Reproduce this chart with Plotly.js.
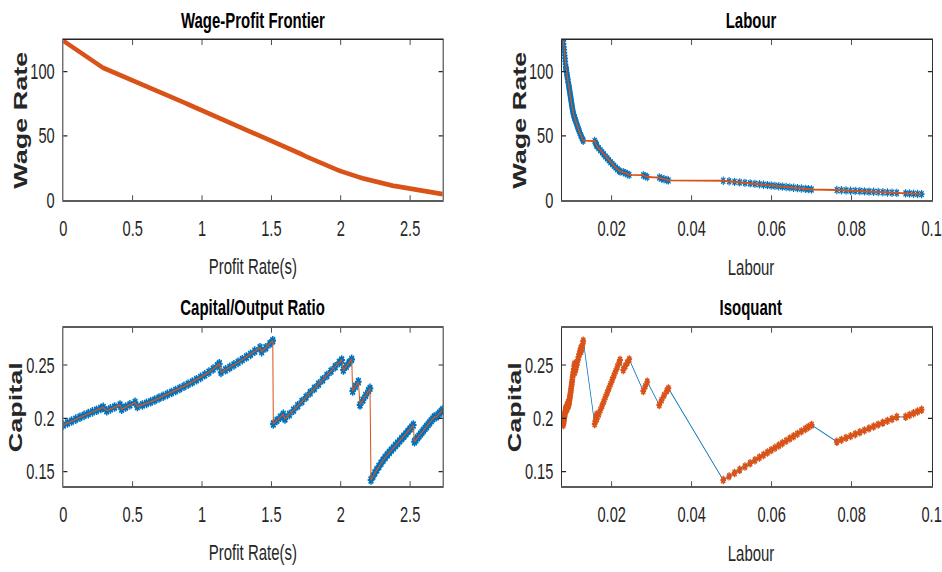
<!DOCTYPE html>
<html>
<head>
<meta charset="utf-8">
<script src="https://cdn.plot.ly/plotly-3.0.1.min.js"></script>
<style>
html,body{margin:0;padding:0;background:#fff;overflow:hidden;width:942px;height:572px;}
#plot{width:1385px;height:572px;transform:scaleX(0.68014);transform-origin:0 0;}
</style>
</head>
<body>
<div id="plot"></div>
<script>
// ---- data ----
const profitRate = [
 0,0.03,0.06,0.09,0.12,0.15,0.18,0.21,0.24,0.27,0.288,
 0.313,0.34,0.37,0.409,
 0.421,0.45,0.48,0.517,
 0.534,0.57,0.60,0.63,0.66,0.69,0.72,0.75,0.78,0.81,0.84,0.87,0.90,0.93,0.96,0.99,1.02,1.05,1.08,1.11,1.125,
 1.137,1.17,1.20,1.23,1.26,1.29,1.32,1.35,1.38,1.418,
 1.43,1.46,1.49,1.51,
 1.514,1.54,1.565,1.586,
 1.598,1.63,1.66,1.69,1.72,1.75,1.78,1.81,1.84,1.87,1.90,1.93,1.96,1.99,2.007,
 2.019,2.04,2.06,2.079,
 2.086,2.106,2.127,
 2.139,2.16,2.18,2.20,2.211,
 2.218,2.232,2.246,2.260,2.275,2.290,2.305,2.320,2.335,2.350,2.365,2.380,2.395,2.410,2.425,2.440,2.455,2.470,2.485,2.500,2.512,2.523,
 2.531,2.542,2.553,2.564,2.575,2.586,2.597,2.608,2.619,2.630,2.641,2.652,2.663,2.674,2.690,2.701,2.712,2.724,2.735
];
const wageRate = [
 124,121.7,119.4,117.2,114.9,112.6,110.3,108.0,105.8,103.6,102.9,
 101.8,100.6,99.2,97.4,
 96.9,95.5,94.1,92.4,
 91.6,90.0,88.6,87.2,85.8,84.4,83.0,81.6,80.2,78.8,77.4,76.0,74.6,73.2,71.8,70.4,69.0,67.6,66.2,64.8,64.1,
 63.6,62.1,60.7,59.3,57.9,56.5,55.1,53.7,52.3,50.6,
 50.0,48.6,47.2,46.3,
 46.1,44.9,43.7,42.7,
 42.2,40.5,38.9,37.3,35.7,34.1,32.6,31.1,29.6,28.2,26.8,25.5,24.2,23.0,22.4,
 21.9,21.1,20.4,19.8,
 19.5,18.8,18.1,
 17.7,17.0,16.4,15.8,15.5,
 15.2,14.75,14.33,13.94,13.53,13.13,12.76,12.42,12.10,11.80,11.51,11.22,10.93,10.65,10.36,10.07,9.78,9.49,9.19,8.89,8.65,8.40,
 8.00,7.83,7.65,7.48,7.31,7.13,6.96,6.78,6.61,6.44,6.26,6.09,5.92,5.74,5.40,5.25,5.10,4.95,4.80
];
const labour = [
 0.00790,0.00797,0.00804,0.00811,0.00818,0.00825,0.00832,0.00839,0.00846,0.00853,0.00857,
 0.00862,0.00868,0.00875,0.00884,
 0.00887,0.00894,0.00901,0.00910,
 0.00915,0.00924,0.00931,0.00938,0.00945,0.00952,0.00959,0.00966,0.00973,0.00980,0.00987,0.00994,0.01001,0.01008,0.01015,0.01023,0.01031,0.01040,0.01052,0.01066,0.01073,
 0.01080,0.01095,0.01110,0.01125,0.01140,0.01156,0.01172,0.01188,0.01205,0.01228,
 0.01235,0.01255,0.01277,0.01290,
 0.01575,0.01595,0.01612,0.01625,
 0.01630,0.01675,0.01718,0.01760,0.01803,0.01845,0.01888,0.01930,0.01973,0.02015,0.02058,0.02100,0.02143,0.02186,0.02210,
 0.02290,0.02340,0.02390,0.02440,
 0.02790,0.02840,0.02890,
 0.03190,0.03250,0.03310,0.03380,0.03420,
 0.04790,0.04936,0.05073,0.05201,0.05334,0.05462,0.05582,0.05694,0.05797,0.05895,0.05989,0.06083,0.06178,0.06268,0.06362,0.06456,0.06550,0.06645,0.06743,0.06842,0.06919,0.07000,
 0.07630,0.07745,0.07860,0.07975,0.08090,0.08205,0.08320,0.08435,0.08550,0.08665,0.08780,0.08895,0.09010,0.09130,0.09350,0.09450,0.09550,0.09650,0.09750
];
const capital = [
 0.1937,0.1956,0.1974,0.1992,0.2010,0.2027,0.2044,0.2060,0.2076,0.2092,0.2103,
 0.2071,0.2088,0.2106,0.2125,
 0.2085,0.2106,0.2127,0.2150,
 0.2110,0.2125,0.2140,0.2155,0.2172,0.2190,0.2207,0.2224,0.2242,0.2261,0.2280,0.2300,0.2320,0.2340,0.2362,0.2384,0.2408,0.2433,0.2462,0.2493,0.2512,
 0.2431,0.2455,0.2478,0.2501,0.2525,0.2550,0.2575,0.2600,0.2630,0.2662,
 0.2625,0.2662,0.2700,0.2728,
 0.1947,0.1980,0.2010,0.2037,
 0.1993,0.2036,0.2077,0.2118,0.2158,0.2199,0.2240,0.2280,0.2321,0.2362,0.2402,0.2443,0.2484,0.2524,0.2547,
 0.2453,0.2488,0.2521,0.2553,
 0.2256,0.2300,0.2343,
 0.2125,0.2171,0.2215,0.2259,0.2281,
 0.1421,0.1455,0.1487,0.1517,0.1548,0.1578,0.1606,0.1632,0.1656,0.1679,0.1701,0.1723,0.1745,0.1766,0.1788,0.1810,0.1832,0.1854,0.1877,0.1900,0.1918,0.1937,
 0.1780,0.1798,0.1816,0.1833,0.1851,0.1869,0.1887,0.1905,0.1923,0.1941,0.1958,0.1976,0.1994,0.2012,0.2015,0.2031,0.2047,0.2064,0.2080
];
const profitTicks = [0, 0.5, 1, 1.5, 2, 2.5];
const profitTickLabels = ["0", "0.5", "1", "1.5", "2", "2.5"];
const labourTicks = [0.02, 0.04, 0.06, 0.08, 0.1];
const labourTickLabels = ["0.02", "0.04", "0.06", "0.08", "0.1"];
const wageTicks = [0, 50, 100];
const wageTickLabels = ["0", "50", "100"];
const capitalTicks = [0.15, 0.2, 0.25];
const capitalTickLabels = ["0.15", "0.2", "0.25"];
const panelTitles = ["Wage-Profit Frontier", "Labour", "Capital/Output Ratio", "Isoquant"];
const xTitles = ["Profit Rate(s)", "Labour", "Profit Rate(s)", "Labour"];
const yTitles = ["Wage Rate", "Wage Rate", "Capital", "Capital"];

// ---- styling ----
const BLUE = '#0072BD', ORANGE = '#D95319', AX = '#262626';
const FONT = 'Liberation Sans, Arial, Helvetica, sans-serif';
const xDomL = [63.3/942, 442.7/942], xDomR = [562/942, 932/942];
const yDomT = [1-200.3/572, 1-40/572], yDomB = [1-486.3/572, 1-327.7/572];

function axis(domain, range, tv, tt, anchor, isX) {
  return {
    domain: domain, range: range, anchor: anchor,
    tickmode: 'array', tickvals: tv, ticktext: tt,
    ticks: 'inside', ticklen: isX ? 5 : 6, tickwidth: 1.2, tickcolor: AX,
    showline: true, linecolor: AX, linewidth: 1.4, mirror: 'ticks',
    showgrid: false, zeroline: false, fixedrange: true,
    ticklabelstandoff: isX ? 9 : 7,
    tickfont: {family: FONT, size: 21.5, color: AX}
  };
}

const asterisk = (c, sz, lw) => ({symbol: 'asterisk-open', size: sz, color: c, line: {color: c, width: lw}});

const traces = [
  {x: profitRate, y: wageRate, xaxis: 'x', yaxis: 'y', mode: 'lines',
   line: {color: ORANGE, width: 4.8}, hoverinfo: 'skip'},
  {x: labour, y: wageRate, xaxis: 'x2', yaxis: 'y2', mode: 'markers',
   marker: asterisk(BLUE, 7, 1.6), hoverinfo: 'skip'},
  {x: labour, y: wageRate, xaxis: 'x2', yaxis: 'y2', mode: 'lines',
   line: {color: ORANGE, width: 1.8}, hoverinfo: 'skip'},
  {x: profitRate, y: capital, xaxis: 'x3', yaxis: 'y3', mode: 'markers',
   marker: asterisk(BLUE, 8, 2.2), hoverinfo: 'skip'},
  {x: profitRate, y: capital, xaxis: 'x3', yaxis: 'y3', mode: 'lines',
   line: {color: ORANGE, width: 1.5}, hoverinfo: 'skip'},
  {x: labour, y: capital, xaxis: 'x4', yaxis: 'y4', mode: 'lines',
   line: {color: BLUE, width: 1.1}, hoverinfo: 'skip'},
  {x: labour, y: capital, xaxis: 'x4', yaxis: 'y4', mode: 'markers',
   marker: asterisk(ORANGE, 7, 2), hoverinfo: 'skip'}
];

const layout = {
  width: 1385, height: 572, margin: {l: 0, r: 0, t: 0, b: 0},
  paper_bgcolor: '#fff', plot_bgcolor: '#fff', showlegend: false,
  font: {family: FONT, color: AX},
  xaxis:  axis(xDomL, [0, 2.735], profitTicks, profitTickLabels, 'y', true),
  yaxis:  axis(yDomT, [0, 124.6], wageTicks, wageTickLabels, 'x', false),
  xaxis2: axis(xDomR, [0.00758, 0.1001], labourTicks, labourTickLabels, 'y2', true),
  yaxis2: axis(yDomT, [0, 124.6], wageTicks, wageTickLabels, 'x2', false),
  xaxis3: axis(xDomL, [0, 2.735], profitTicks, profitTickLabels, 'y3', true),
  yaxis3: axis(yDomB, [0.1362, 0.285], capitalTicks, capitalTickLabels, 'x3', false),
  xaxis4: axis(xDomR, [0.00758, 0.1001], labourTicks, labourTickLabels, 'y4', true),
  yaxis4: axis(yDomB, [0.1362, 0.285], capitalTicks, capitalTickLabels, 'x4', false),
  annotations: []
};

const titleX = [253/942, 751/942, 253/942, 751/942];
const titleY = [1-20.8/572, 1-20.8/572, 1-307.5/572, 1-307.5/572];
const xtY = [1-266/572, 1-267/572, 1-552/572, 1-553/572];
const ytX = [20.8/942, 520/942, 15.8/942, 515/942];
const ytY = [1-120.2/572, 1-120.2/572, 1-407/572, 1-407/572];
for (let i = 0; i < 4; i++) {
  layout.annotations.push({text: '<b>' + panelTitles[i] + '</b>', xref: 'paper', yref: 'paper',
    x: titleX[i], y: titleY[i], xanchor: 'center', yanchor: 'middle', showarrow: false,
    font: {family: FONT, size: 22, color: '#000'}});
  layout.annotations.push({text: xTitles[i], xref: 'paper', yref: 'paper',
    x: titleX[i], y: xtY[i], xanchor: 'center', yanchor: 'middle', showarrow: false,
    font: {family: FONT, size: 22, color: AX}});
  layout.annotations.push({text: '<b>' + yTitles[i] + '</b>', xref: 'paper', yref: 'paper',
    x: ytX[i], y: ytY[i], xanchor: 'center', yanchor: 'middle', textangle: -90, showarrow: false,
    font: {family: FONT, size: 27, color: AX}});
}

Plotly.newPlot('plot', traces, layout, {staticPlot: true, displayModeBar: false});
</script>
</body>
</html>
